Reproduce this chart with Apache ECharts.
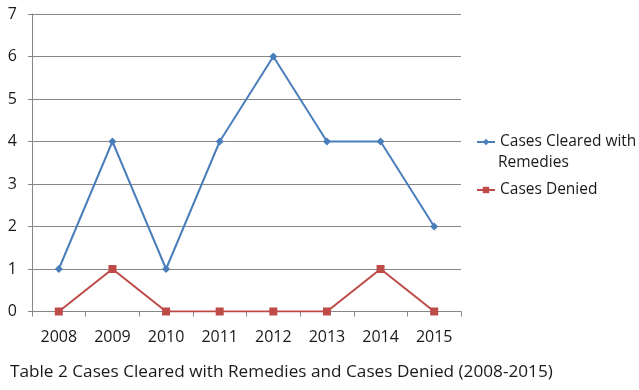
<!DOCTYPE html>
<html><head><meta charset="utf-8">
<script src="https://cdn.jsdelivr.net/npm/echarts@6/dist/echarts.min.js"></script>
<style>html,body{margin:0;padding:0;background:#fff}#c{width:639px;height:390px}</style>
</head><body><div id="c"></div>
<script>
var years = ['2008','2009','2010','2011','2012','2013','2014','2015'];
var cleared = [1,4,1,4,6,4,4,2];
var denied = [0,1,0,0,0,0,1,0];
var yTicks = [0,1,2,3,4,5,6,7];
var caption = 'Table 2 Cases Cleared with Remedies and Cases Denied (2008-2015)';
var FONT = '"Open Sans", sans-serif';
var chart = echarts.init(document.getElementById('c'));
chart.setOption({
  backgroundColor:'#fff',
  animation:false,
  textStyle:{fontFamily:FONT},
  grid:{left:32,right:178,top:14,bottom:78.5,containLabel:false},
  title:{text:caption,left:5,top:359,textStyle:{fontFamily:FONT,fontSize:17.2,fontWeight:'normal',color:'#1a1a1a'}},
  graphic:[{type:'text',left:498,top:155,style:{text:'Remedies',fontFamily:FONT,fontSize:15.5,fill:'#1a1a1a'}}],
  legend:[{
    data:['Cases Cleared with Remedies'],orient:'vertical',left:471,top:129,
    itemWidth:18,itemHeight:8,
    formatter:function(){return 'Cases Cleared with';},
    textStyle:{fontFamily:FONT,fontSize:15.5,color:'#1a1a1a'}
  },{
    data:['Cases Denied'],orient:'vertical',left:471,top:177,
    itemWidth:18,itemHeight:8,
    textStyle:{fontFamily:FONT,fontSize:15.5,color:'#1a1a1a'}
  }],
  xAxis:{type:'category',data:years,boundaryGap:true,
    axisLine:{lineStyle:{color:'#868686'}},
    axisTick:{show:true,interval:0,length:5,lineStyle:{color:'#868686'}},
    axisLabel:{fontFamily:FONT,fontSize:16,color:'#1a1a1a',margin:18}},
  yAxis:{type:'value',min:0,max:7,interval:1,
    axisLine:{show:true,lineStyle:{color:'#868686'}},
    axisTick:{show:true,length:4,lineStyle:{color:'#868686'}},
    splitLine:{lineStyle:{color:'#868686'}},
    axisLabel:{fontFamily:FONT,fontSize:16,color:'#1a1a1a',margin:15,
      formatter:function(v){return yTicks.indexOf(v)>=0?String(v):'';}}},
  series:[{
    name:'Cases Cleared with Remedies',type:'line',data:cleared,
    symbol:'diamond',symbolSize:8,
    lineStyle:{color:'#4a7ebb',width:2},itemStyle:{color:'#4a7ebb'}
  },{
    name:'Cases Denied',type:'line',data:denied,
    symbol:'rect',symbolSize:8,
    lineStyle:{color:'#be4b48',width:2},itemStyle:{color:'#be4b48'}
  }]
});
</script></body></html>
